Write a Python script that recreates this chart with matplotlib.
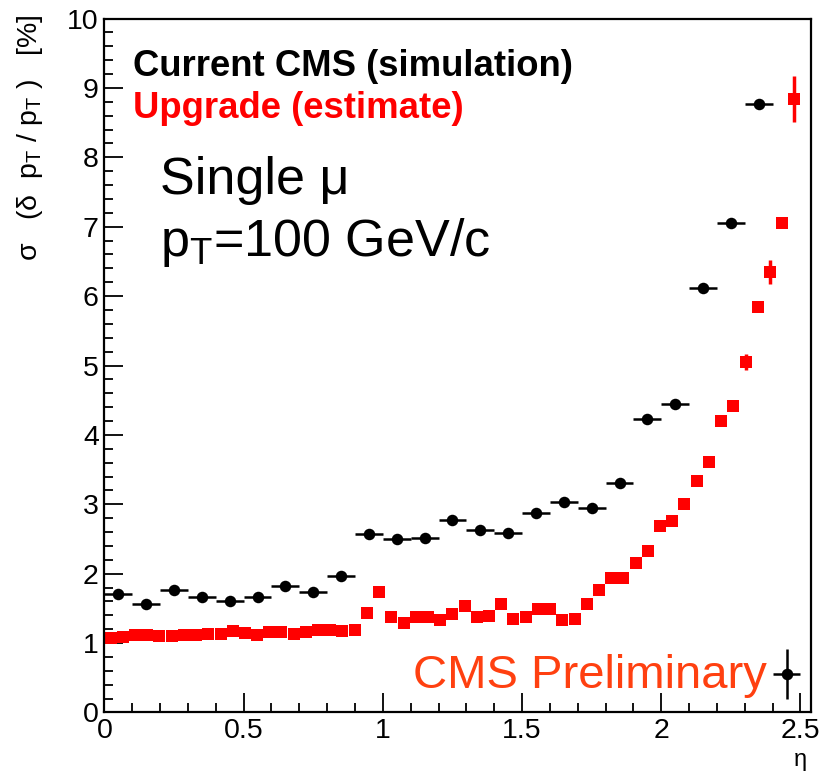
import matplotlib
matplotlib.use("Agg")
import matplotlib.pyplot as plt
from matplotlib.ticker import MultipleLocator, FuncFormatter

plt.rcParams["font.family"] = ["Liberation Sans", "DejaVu Sans"]
plt.rcParams["mathtext.fontset"] = "custom"
plt.rcParams["mathtext.rm"] = "Liberation Sans"
plt.rcParams["mathtext.it"] = "Liberation Sans:italic"

# current CMS (simulation), bins of 0.1 in eta
cms_eta = [0.05, 0.15, 0.25, 0.35, 0.45, 0.55, 0.65, 0.75, 0.85, 0.95,
           1.05, 1.15, 1.25, 1.35, 1.45, 1.55, 1.65, 1.75, 1.85, 1.95,
           2.05, 2.15, 2.25, 2.35, 2.45]
cms_res = [1.71, 1.57, 1.77, 1.66, 1.61, 1.67, 1.82, 1.74, 1.97, 2.57,
           2.50, 2.52, 2.77, 2.63, 2.58, 2.88, 3.04, 2.95, 3.31, 4.23,
           4.45, 6.12, 7.05, 8.77, 0.56]
cms_err = [0.04, 0.04, 0.04, 0.04, 0.04, 0.04, 0.04, 0.04, 0.04, 0.04,
           0.04, 0.04, 0.04, 0.04, 0.04, 0.04, 0.04, 0.04, 0.05, 0.05,
           0.05, 0.06, 0.06, 0.07, 0.36]
cms_xerr = 0.05

# upgrade estimate
upg_eta = [0.022, 0.066, 0.110, 0.154, 0.197, 0.241, 0.285, 0.329, 0.373, 0.417,
           0.461, 0.504, 0.548, 0.592, 0.636, 0.680, 0.724, 0.768, 0.811, 0.855,
           0.899, 0.943, 0.987, 1.031, 1.075, 1.118, 1.162, 1.206, 1.250, 1.294,
           1.338, 1.382, 1.425, 1.469, 1.513, 1.557, 1.601, 1.645, 1.689, 1.732,
           1.776, 1.820, 1.864, 1.908, 1.952, 1.996, 2.039, 2.083, 2.127, 2.171,
           2.215, 2.259, 2.303, 2.346, 2.390, 2.434, 2.478]
upg_res = [1.08, 1.09, 1.11, 1.12, 1.10, 1.10, 1.12, 1.12, 1.13, 1.13,
           1.17, 1.15, 1.12, 1.16, 1.16, 1.13, 1.16, 1.19, 1.19, 1.17,
           1.19, 1.44, 1.74, 1.38, 1.29, 1.38, 1.38, 1.33, 1.42, 1.53,
           1.38, 1.39, 1.56, 1.35, 1.37, 1.49, 1.49, 1.33, 1.35, 1.56,
           1.77, 1.94, 1.94, 2.16, 2.33, 2.69, 2.76, 3.00, 3.34, 3.61,
           4.20, 4.41, 5.05, 5.85, 6.35, 7.06, 8.84]
upg_err = [0.0] * 50 + [0.02, 0.03, 0.12, 0.08, 0.17, 0.07, 0.33]

fig = plt.figure(figsize=(8.19, 7.73), dpi=100)
ax = fig.add_axes([0.1275, 0.0783, 0.8628, 0.8977])

ax.errorbar(upg_eta, upg_res, yerr=upg_err, fmt="s", color="#ff0000",
            ms=9.2, mew=0, elinewidth=2.5, capsize=0, zorder=2)
ax.errorbar(cms_eta, cms_res, xerr=cms_xerr, yerr=cms_err, fmt="o",
            color="black", ms=8.3, mew=0, elinewidth=1.8, capsize=0, zorder=3)

ax.set_xlim(0, 2.538)
ax.set_ylim(0, 10)
ax.xaxis.set_major_locator(MultipleLocator(0.5))
ax.xaxis.set_minor_locator(MultipleLocator(0.1))
ax.yaxis.set_major_locator(MultipleLocator(1))
ax.yaxis.set_minor_locator(MultipleLocator(0.2))
ax.xaxis.set_major_formatter(FuncFormatter(lambda v, p: f"{v:g}"))
ax.tick_params(which="both", direction="in", top=False, right=False,
               labelsize=20.5, width=1.3)
ax.tick_params(which="major", length=13.5, pad=4)
ax.tick_params(which="minor", length=6.8)
for s in ax.spines.values():
    s.set_linewidth(1.6)

fig.text(30 / 819, 1 - 14 / 773,
         "σ   (δ  p$_\\mathrm{T}$ / p$_\\mathrm{T}$ )   [%]",
         rotation=90, ha="center", va="top", fontsize=20.5)
fig.text(800 / 819, 1 - 760 / 773, "η", ha="center", va="center", fontsize=17)


# annotations, positioned in figure pixels (from top-left)
def put(x, y, s, **kw):
    fig.text(x / 819, 1 - y / 773, s, ha="left", va="baseline", **kw)


put(133, 76, "Current CMS (simulation)", fontsize=26.3, fontweight="bold")
put(133, 118, "Upgrade (estimate)", fontsize=26.3, fontweight="bold",
    color="#ff0000")
put(160, 194, "Single μ", fontsize=37.5)
put(160, 256, "p$_\\mathrm{T}$=100 GeV/c", fontsize=37.5)
put(413, 688, "CMS Preliminary", fontsize=34, color="#ff4010")

fig.savefig("out.png", dpi=100)
